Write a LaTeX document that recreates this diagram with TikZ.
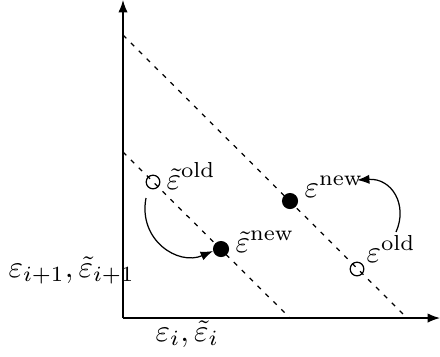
\documentclass[tikz,border=0pt]{standalone}
\usetikzlibrary{arrows.meta}
\begin{document}
\begin{tikzpicture}[x=0.3226pt,y=-0.3226pt,
  axis/.style={-{Latex[length=4pt,width=3pt]}},
  level/.style={dash pattern=on 1.5pt off 2.1pt},
  oldpt/.style={circle,draw,inner sep=0pt,minimum size=4.4pt},
  newpt/.style={circle,fill,inner sep=0pt,minimum size=5.2pt},
  lbl/.style={anchor=base west,inner sep=0pt},
  move/.style={-{Latex[length=4pt,width=3pt]}}]
\useasboundingbox (0,0) rectangle (440,356);
\coordinate (O) at (123,318);
\coordinate (Y) at (123,0);
\coordinate (X) at (440,318);
\draw[axis] (O) -- (Y);
\draw[axis] (O) -- (X);
\coordinate (a1) at (123,35);
\coordinate (a2) at (407,318);
\coordinate (b1) at (123,152);
\coordinate (b2) at (290,318);
\draw[level] (a1) -- (a2);
\draw[level] (b1) -- (b2);
\node[oldpt] (to) at (153,182) {};
\node[newpt] (tn) at (221,249) {};
\node[newpt] (n) at (290,201) {};
\node[oldpt] (o) at (357,269) {};
\node[lbl] (tol) at (166,189) {$\tilde\varepsilon^{\mathrm{old}}$};
\node[lbl] (tnl) at (235,252) {$\tilde\varepsilon^{\mathrm{new}}$};
\node[lbl] (nl) at (304,197) {$\varepsilon^{\mathrm{new}}$};
\node[lbl] (ol) at (366,262) {$\varepsilon^{\mathrm{old}}$};
\node[lbl] (yl) at (8,277) {$\varepsilon_{i+1},\tilde\varepsilon_{i+1}$};
\node[lbl] (xl) at (155,341) {$\varepsilon_{i},\tilde\varepsilon_{i}$};
\coordinate (s1) at (146,198);
\coordinate (e1) at (213,251);
\draw[move] (s1) .. controls (138,240) and (178,266) .. (e1);
\coordinate (s2) at (396,232);
\coordinate (e2) at (357,180);
\draw[move] (s2) .. controls (408,205) and (392,178) .. (e2);
\end{tikzpicture}
\end{document}
